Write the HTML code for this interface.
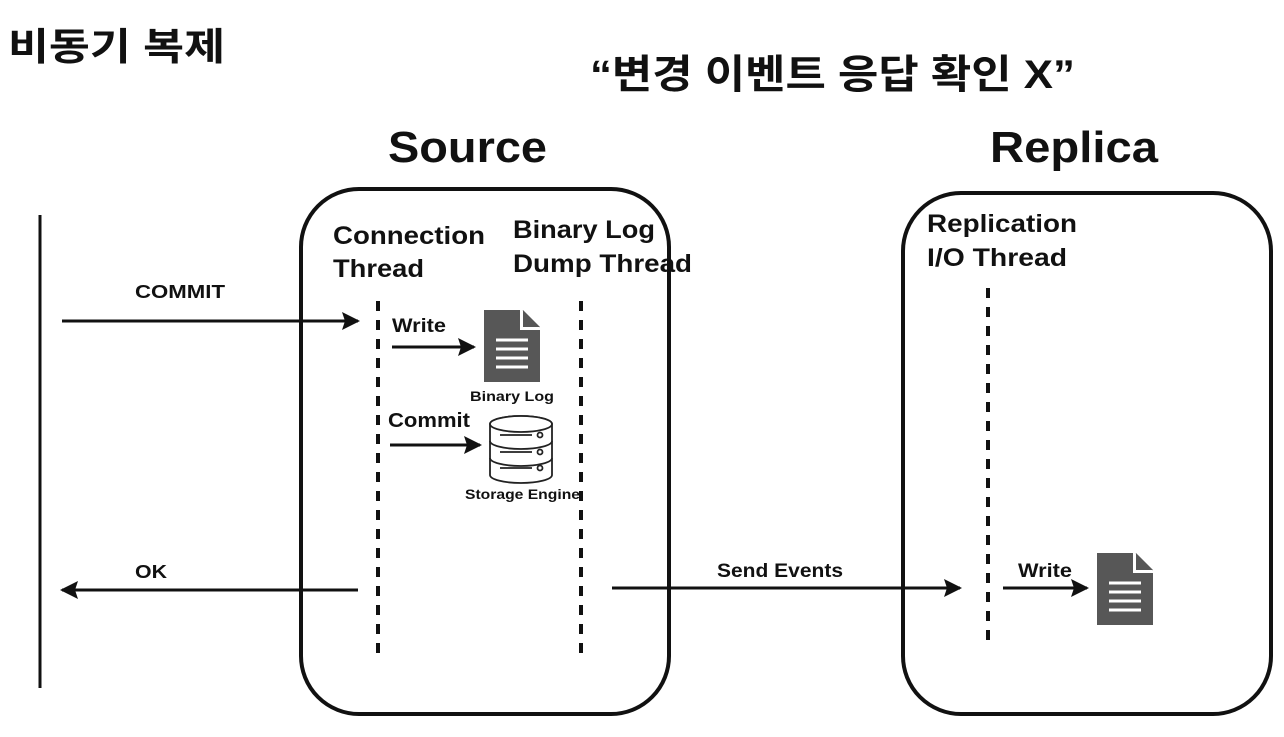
<!DOCTYPE html>
<html><head><meta charset="utf-8"><style>
html,body{margin:0;padding:0;background:#fff;}
svg{display:block;}
text{font-family:"Liberation Sans","Noto Sans CJK KR",sans-serif;font-weight:bold;fill:#111;}
</style></head><body>
<svg width="1284" height="737" viewBox="0 0 1284 737" xmlns="http://www.w3.org/2000/svg">
<defs>
<marker id="ahb" markerWidth="18" markerHeight="18" refX="16" refY="9" orient="auto" markerUnits="userSpaceOnUse"><path d="M0,0 L18,9 L0,18 L3,9 Z" fill="#111"/></marker>
<g id="doc"><path d="M0,0 H38 L56,18 V72 H0 Z" fill="#575757"/><path d="M38,0 L56,18 V20 H36 V0Z" fill="#fff"/><path d="M39,0 L56,17 H39 Z" fill="#575757"/><g stroke="#fff" stroke-width="3"><line x1="12" y1="30" x2="44" y2="30"/><line x1="12" y1="39" x2="44" y2="39"/><line x1="12" y1="48" x2="44" y2="48"/><line x1="12" y1="57" x2="44" y2="57"/></g></g>
</defs>
<text x="8" y="60" font-size="38" textLength="217" lengthAdjust="spacingAndGlyphs">비동기 복제</text>
<text x="590" y="88" font-size="40" textLength="485" lengthAdjust="spacingAndGlyphs">“변경 이벤트 응답 확인 X”</text>
<text x="388" y="162" font-size="44" textLength="159" lengthAdjust="spacingAndGlyphs">Source</text>
<text x="990" y="162" font-size="44" textLength="168" lengthAdjust="spacingAndGlyphs">Replica</text>
<rect x="301" y="189" width="368" height="525" rx="58" fill="none" stroke="#111" stroke-width="4"/>
<rect x="903" y="193" width="368" height="521" rx="58" fill="none" stroke="#111" stroke-width="4"/>
<line x1="40" y1="215" x2="40" y2="688" stroke="#111" stroke-width="3"/>
<text x="333" y="244" font-size="25" textLength="152" lengthAdjust="spacingAndGlyphs">Connection</text>
<text x="333" y="277" font-size="25" textLength="91" lengthAdjust="spacingAndGlyphs">Thread</text>
<text x="513" y="238" font-size="25" textLength="142" lengthAdjust="spacingAndGlyphs">Binary Log</text>
<text x="513" y="272" font-size="25" textLength="179" lengthAdjust="spacingAndGlyphs">Dump Thread</text>
<text x="927" y="232" font-size="25" textLength="150" lengthAdjust="spacingAndGlyphs">Replication</text>
<text x="927" y="266" font-size="25" textLength="140" lengthAdjust="spacingAndGlyphs">I/O Thread</text>
<g stroke="#111" stroke-width="4" stroke-dasharray="10,9">
<line x1="378" y1="301" x2="378" y2="660"/>
<line x1="581" y1="301" x2="581" y2="660"/>
<line x1="988" y1="288" x2="988" y2="646"/>
</g>
<g stroke="#111" stroke-width="3">
<line x1="62" y1="321" x2="358" y2="321" marker-end="url(#ahb)"/>
<line x1="358" y1="590" x2="62" y2="590" marker-end="url(#ahb)"/>
<line x1="392" y1="347" x2="474" y2="347" marker-end="url(#ahb)"/>
<line x1="390" y1="445" x2="480" y2="445" marker-end="url(#ahb)"/>
<line x1="612" y1="588" x2="960" y2="588" marker-end="url(#ahb)"/>
<line x1="1003" y1="588" x2="1087" y2="588" marker-end="url(#ahb)"/>
</g>
<text x="135" y="298" font-size="18" textLength="90" lengthAdjust="spacingAndGlyphs">COMMIT</text>
<text x="135" y="578" font-size="18" textLength="32" lengthAdjust="spacingAndGlyphs">OK</text>
<text x="717" y="577" font-size="19" textLength="126" lengthAdjust="spacingAndGlyphs">Send Events</text>
<text x="1018" y="577" font-size="19" textLength="54" lengthAdjust="spacingAndGlyphs">Write</text>
<text x="392" y="332" font-size="19" textLength="54" lengthAdjust="spacingAndGlyphs">Write</text>
<text x="388" y="427" font-size="20" textLength="82" lengthAdjust="spacingAndGlyphs">Commit</text>
<use href="#doc" x="484" y="310"/>
<use href="#doc" x="1097" y="553"/>
<text x="470" y="401" font-size="14" textLength="84" lengthAdjust="spacingAndGlyphs">Binary Log</text>
<g fill="#fff" stroke="#222" stroke-width="1.8">
<path d="M490,424 a31,8 0 0 1 62,0 v51 a31,8 0 0 1 -62,0 Z"/>
<ellipse cx="521" cy="424" rx="31" ry="8"/>
<path d="M490,441 a31,8 0 0 0 62,0 M490,458 a31,8 0 0 0 62,0" fill="none"/>
<line x1="500" y1="435" x2="532" y2="435"/><circle cx="540" cy="435" r="2.5"/>
<line x1="500" y1="452" x2="532" y2="452"/><circle cx="540" cy="452" r="2.5"/>
<line x1="500" y1="468" x2="532" y2="468"/><circle cx="540" cy="468" r="2.5"/>
</g>
<text x="465" y="499" font-size="14" textLength="115" lengthAdjust="spacingAndGlyphs">Storage Engine</text>
</svg>
</body></html>
